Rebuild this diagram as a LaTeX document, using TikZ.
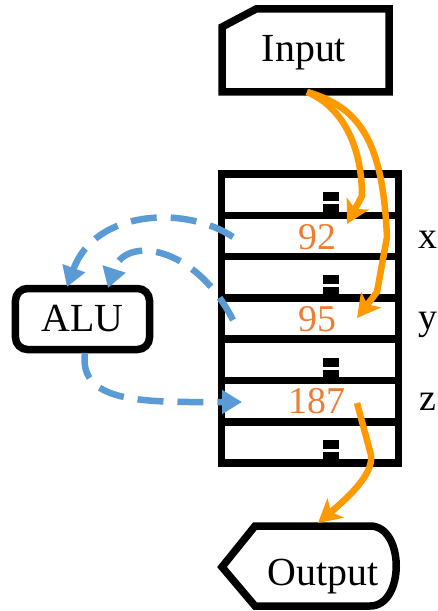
\documentclass[tikz,border=0pt]{standalone}
\usepackage{fontspec}
\setmainfont{Liberation Serif}
\usetikzlibrary{arrows.meta}
\definecolor{flowor}{HTML}{FF9900}
\definecolor{numor}{HTML}{ED7D31}
\definecolor{alublue}{HTML}{5B9BD5}

\begin{document}
\begin{tikzpicture}[x=1bp,y=-1bp,
  frame/.style={draw=black,line width=7.5bp,line join=miter},
  lbl/.style={font=\fontsize{40}{44}\selectfont,inner sep=0pt},
  val/.style={font=\fontsize{38}{40}\selectfont,text=numor,inner sep=0pt},
  regname/.style={font=\fontsize{38}{40}\selectfont,inner sep=0pt,anchor=base},
  cellmark/.style={fill=black},
  dataflow/.style={draw=flowor,line width=6.5bp,line join=round,
    -{Stealth[length=23bp,width=25bp,inset=6bp]}},
  aluflow/.style={draw=alublue,line width=6.5bp,dash pattern=on 26bp off 14bp,
    -{Triangle[length=20bp,width=23bp]}}]
\useasboundingbox (0,0) rectangle (438,611);

% input terminal with a clipped corner
\draw[frame] (222,27) -- (256,9) -- (389,9) -- (389,92) -- (222,92) -- cycle;
\node[lbl,anchor=base] (inp) at (304,62) {Input};

% register file: seven cells
\draw[frame] (221.5,174) rectangle (398.5,463);
\foreach \yy in {215.3,256.6,297.9,339.2,380.5,421.8}
  \draw[frame] (221.5,\yy) -- (398.5,\yy);
% elision marks in the unnamed cells
\foreach \yy in {215.3,297.9,380.5,463} {
  \fill[cellmark] (323,\yy-23) rectangle (339,\yy-14);
  \fill[cellmark] (323,\yy-11) rectangle (339,\yy);
}
\node[val] (vx) at (317,237) {92};
\node[val] (vy) at (317,319) {95};
\node[val] (vz) at (317,401) {187};
\node[regname] (nx) at (428,248) {x};
\node[regname] (ny) at (428,329) {y};
\node[regname] (nz) at (428,410) {z};

% arithmetic unit
\node[frame,lbl,rounded corners=12bp,minimum width=134bp,minimum height=61bp]
  (alu) at (82.5,319) {ALU};

% output display terminal
\draw[frame] (222,567) -- (255,526) -- (370,526)
  .. controls (405,526) and (405,606) .. (370,606) -- (255,606) -- cycle;
\node[lbl,anchor=base] (outp) at (323,585) {Output};

% connector end points
\coordinate (inSrc) at (307,92);
\coordinate (xIn) at (347,224);
\coordinate (yIn) at (357,318);
\coordinate (xOut) at (233,237);
\coordinate (yOut) at (233,320);
\coordinate (aluInA) at (67,287);
\coordinate (aluInB) at (108,288);
\coordinate (aluOut) at (85,353);
\coordinate (zIn) at (242,402);
\coordinate (zOut) at (357,403);
\coordinate (outIn) at (318,523);

% data moved by the program
\draw[dataflow] (inSrc) .. controls (345,108) and (362,150) .. (362,196) -- (xIn);
\draw[dataflow] (inSrc) .. controls (365,108) and (383,150) .. (387,237)
  -- (377,292) -- (yIn);
\draw[dataflow] (zOut) -- (371,455) .. controls (374,475) and (345,500) .. (outIn);

% operands to the ALU and its result
\draw[aluflow] (xOut) .. controls (185,205) and (95,210) .. (aluInA);
\draw[aluflow] (yOut) .. controls (195,245) and (125,235) .. (aluInB);
\draw[aluflow] (aluOut) .. controls (78,405) and (150,402) .. (zIn);
\end{tikzpicture}
\end{document}
